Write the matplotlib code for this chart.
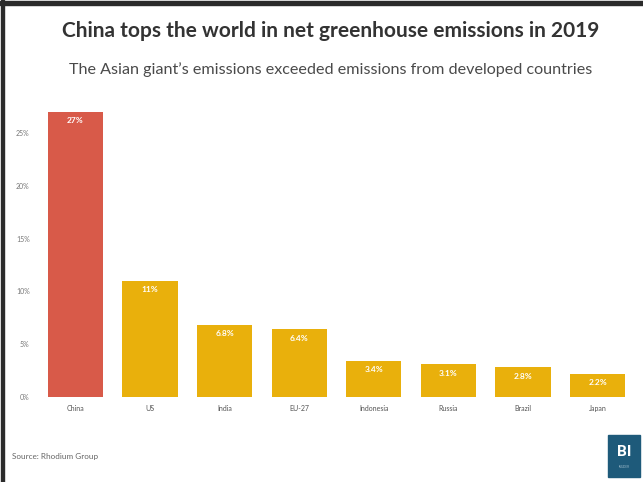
import matplotlib
matplotlib.use("Agg")
import matplotlib.pyplot as plt
from matplotlib.patches import Rectangle

countries = ["China", "US", "India", "EU-27", "Indonesia", "Russia", "Brazil", "Japan"]
shares = [27, 11, 6.8, 6.4, 3.4, 3.1, 2.8, 2.2]
labels = ["27%", "11%", "6.8%", "6.4%", "3.4%", "3.1%", "2.8%", "2.2%"]
yticks = [0, 5, 10, 15, 20, 25]
ytick_labels = ["0%", "5%", "10%", "15%", "20%", "25%"]

W, H = 643, 482
fig = plt.figure(figsize=(W / 100, H / 100), dpi=100)
fig.patch.set_facecolor("white")

def fx(px):
    return px / W

def fy(py):
    return 1 - py / H

# axes: x from 38 to 635, y from 105 to 397
ax = fig.add_axes([fx(38), fy(397), fx(635) - fx(38), fy(105) - fy(397)])
colors = ["#D85A49"] + ["#E9B00C"] * (len(countries) - 1)
bars = ax.bar(range(len(countries)), shares, width=0.74, color=colors)
ax.set_xlim(-0.5, len(countries) - 0.5)
ax.set_ylim(0, 27.65)
for b, lab in zip(bars, labels):
    ax.text(b.get_x() + b.get_width() / 2, b.get_height() - 0.5, lab,
            ha="center", va="top", color="white", fontsize=6,
            fontweight="bold", family="Lato")
ax.set_xticks(range(len(countries)))
ax.set_xticklabels(countries, fontsize=5, color="#555555", family="Lato")
ax.set_yticks(yticks)
ax.set_yticklabels(ytick_labels, fontsize=5, color="#777777", family="Lato")
ax.tick_params(length=0, pad=6)
for s in ax.spines.values():
    s.set_visible(False)

fig.text(fx(331), fy(31), "China tops the world in net greenhouse emissions in 2019",
         ha="center", va="center", fontsize=15, fontweight="bold",
         color="#333333", family="Lato")
fig.text(fx(331), fy(70), "The Asian giant\u2019s emissions exceeded emissions from developed countries",
         ha="center", va="center", fontsize=11.6, color="#4a4a4a", family="Lato")
fig.text(fx(12), fy(457), "Source: Rhodium Group", ha="left", va="center",
         fontsize=5.9, color="#666666", family="Lato")

# frame lines (top and left)
fig.patches.append(Rectangle((0, fy(5)), 1, fy(1) - fy(5), transform=fig.transFigure,
                             color="#2b2b2b", zorder=5))
fig.patches.append(Rectangle((fx(1), 0), fx(4) - fx(1), 1, transform=fig.transFigure,
                             color="#2b2b2b", zorder=5))

# BI logo
fig.patches.append(Rectangle((fx(608), fy(477)), fx(640) - fx(608), fy(435) - fy(477),
                             transform=fig.transFigure, color="#1E5A7A", zorder=5))
fig.text(fx(624), fy(452), "BI", ha="center", va="center", fontsize=11,
         fontweight="bold", color="white", family="Roboto", zorder=6)
fig.text(fx(624), fy(467), "INSIDER", ha="center", va="center", fontsize=2.2,
         color="#9ab8c8", family="Roboto", zorder=6)

fig.savefig("out.png", dpi=100, facecolor="white")
